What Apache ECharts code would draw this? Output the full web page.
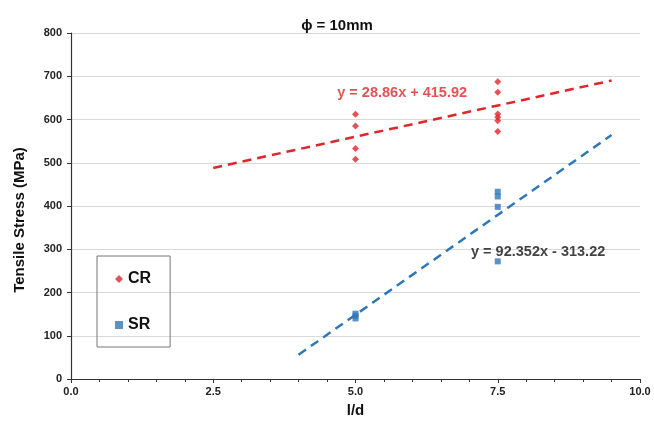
<!DOCTYPE html>
<html><head><meta charset="utf-8">
<script src="https://cdn.jsdelivr.net/npm/echarts@6/dist/echarts.min.js"></script>
<style>html,body{margin:0;padding:0;background:#fff}#c{width:654px;height:423px}</style>
</head><body><div id="c"></div>
<script>
var crX = [5,5,5,5,7.5,7.5,7.5,7.5,7.5,7.5];
var crY = [612,585,533,508,687,663,613,605,597,572];
var srX = [5,5,5,7.5,7.5,7.5,7.5];
var srY = [140,146,151,433,422,398,272];
var crFit = {slope:28.86, intercept:415.92, from:2.5, to:9.5, text:'y = 28.86x + 415.92', labelAt:[5.82,662]};
var srFit = {slope:92.352, intercept:-313.22, from:4, to:9.5, text:'y = 92.352x - 313.22', labelAt:[8.21,293]};
var xTicks = [0,2.5,5,7.5,10];
var yTicks = [0,100,200,300,400,500,600,700,800];

function zip(a,b){return a.map(function(v,i){return [v,b[i]];});}
function fitLine(f){return [[f.from,f.slope*f.from+f.intercept],[f.to,f.slope*f.to+f.intercept]];}
var RED='#e0252b', BLUE='#2f78b8';
var font='Arial, "Liberation Sans", sans-serif';
var chart = echarts.init(document.getElementById('c'));
chart.setOption({
  animation:false,
  title:{text:'\u03d5 = 10mm',left:332,top:13,textAlign:'center',textStyle:{fontFamily:font,fontSize:15,fontWeight:'bold',color:'#111'}},
  grid:{left:71,right:14,top:33,bottom:43},
  legend:{
    orient:'vertical',left:97,top:256,
    padding:[15,19,14,18],itemGap:30,
    borderColor:'#777',borderWidth:1,
    itemWidth:8,itemHeight:8,
    textStyle:{fontFamily:font,fontSize:16,fontWeight:'bold',color:'#111'},
    data:[{name:'CR',icon:'diamond'},{name:'SR',icon:'rect'}]
  },
  xAxis:{type:'value',min:0,max:10,interval:2.5,
    name:'l/d',nameLocation:'middle',nameGap:24,
    nameTextStyle:{fontFamily:font,fontSize:15,fontWeight:'bold',color:'#111'},
    axisLine:{lineStyle:{color:'#333',width:1.2}},
    axisTick:{show:true,length:4,lineStyle:{color:'#333'}},
    minorTick:{show:true,splitNumber:5,length:3,lineStyle:{color:'#333'}},
    axisLabel:{fontFamily:font,fontSize:11,fontWeight:'bold',color:'#222',margin:7,formatter:function(v){return v.toFixed(1);}},
    splitLine:{show:false}},
  yAxis:{type:'value',min:0,max:800,interval:100,
    name:'Tensile Stress (MPa)',nameLocation:'middle',nameGap:44,
    nameTextStyle:{fontFamily:font,fontSize:15,fontWeight:'bold',color:'#111',padding:[0,28,0,0]},
    axisLine:{show:true,lineStyle:{color:'#333',width:1.2}},
    axisTick:{show:true,length:4,lineStyle:{color:'#333'}},
    axisLabel:{fontFamily:font,fontSize:11,fontWeight:'bold',color:'#222',margin:9},
    splitLine:{lineStyle:{color:'#d9d9d9',width:1}}},
  series:[
    {name:'CR',type:'scatter',symbol:'diamond',symbolSize:7,itemStyle:{color:RED},data:zip(crX,crY),z:5},
    {name:'SR',type:'scatter',symbol:'rect',symbolSize:[6,6],itemStyle:{color:BLUE},data:zip(srX,srY),z:5},
    {name:'crFit',type:'line',data:fitLine(crFit),symbol:'none',lineStyle:{color:RED,width:2.5,type:[9,6]},z:3},
    {name:'srFit',type:'line',data:fitLine(srFit),symbol:'none',lineStyle:{color:BLUE,width:2.5,type:[9,6]},z:3},
    {name:'crLab',type:'scatter',symbolSize:0,data:[crFit.labelAt],silent:true,
      label:{show:true,position:'inside',formatter:crFit.text,fontFamily:font,fontSize:14.5,fontWeight:'bold',color:RED}},
    {name:'srLab',type:'scatter',symbolSize:0,data:[srFit.labelAt],silent:true,
      label:{show:true,position:'inside',formatter:srFit.text,fontFamily:font,fontSize:14.5,fontWeight:'bold',color:'#111'}}
  ]
});
</script></body></html>
